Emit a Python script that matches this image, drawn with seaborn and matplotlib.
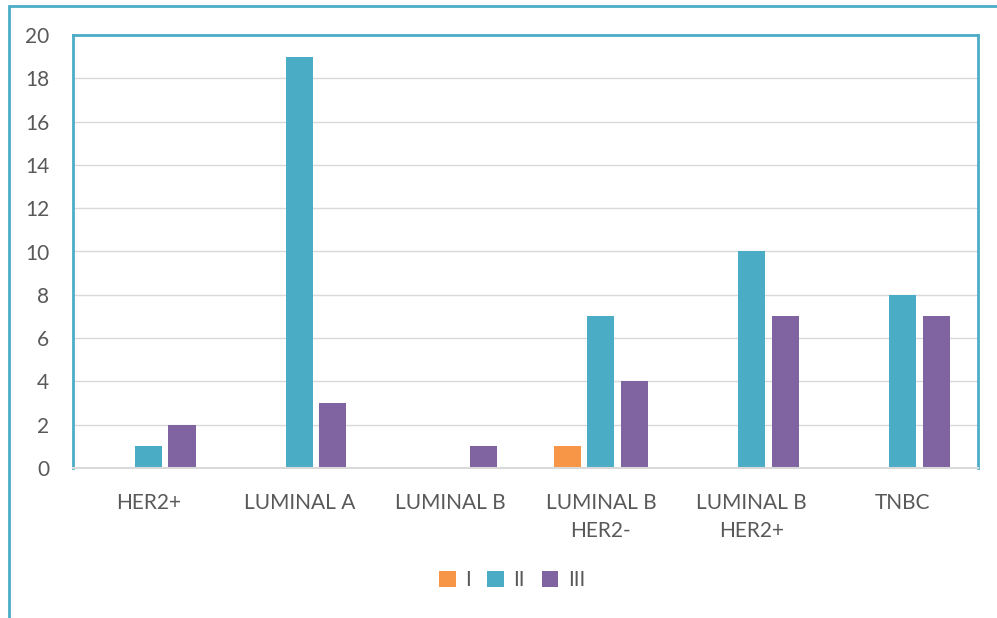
import pandas as pd
import matplotlib.pyplot as plt
import seaborn as sns
from matplotlib.patches import Rectangle

# chart values
subtypes = ["HER2+", "LUMINAL A", "LUMINAL B", "LUMINAL B\nHER2-", "LUMINAL B\nHER2+", "TNBC"]
grades = ["I", "II", "III"]
grade_i = [0, 0, 0, 1, 0, 0]
grade_ii = [1, 19, 0, 7, 10, 8]
grade_iii = [2, 3, 1, 4, 7, 7]
colors = ["#F79646", "#4BACC6", "#8064A2"]

df = pd.DataFrame({
    "subtype": subtypes * 3,
    "grade": [g for g in grades for _ in subtypes],
    "count": grade_i + grade_ii + grade_iii,
})

sns.set_theme(style="white")
plt.rcParams["font.family"] = ["Lato", "DejaVu Sans"]

fig = plt.figure(figsize=(9.97, 6.18), dpi=100)
ax = fig.add_axes([73 / 997, 1 - 468 / 618, (978 - 73) / 997, (468 - 35) / 618])

sns.barplot(data=df, x="subtype", y="count", hue="grade", order=subtypes,
            hue_order=grades, palette=colors, width=0.667, gap=0.19,
            linewidth=0, saturation=1, ax=ax)

ax.set_ylim(0, 20)
ax.set_yticks(range(0, 21, 2))
ax.set_xlabel("")
ax.set_ylabel("")
ax.grid(axis="y", color="#D9D9D9", lw=1)
ax.set_axisbelow(True)
ax.tick_params(axis="y", length=0, pad=17, labelsize=15, labelcolor="#595959")
ax.tick_params(axis="x", length=0, pad=18, labelsize=15, labelcolor="#595959")
for lbl in ax.get_xticklabels():
    lbl.set_linespacing(1.5)

for side in ["left", "top", "right"]:
    ax.spines[side].set_color("#4BACC6")
    ax.spines[side].set_linewidth(2)
ax.spines["bottom"].set_color("#D9D9D9")
ax.spines["bottom"].set_linewidth(1.5)

ax.legend(loc="center", bbox_to_anchor=(512 / 997, 1 - 580 / 618),
          bbox_transform=fig.transFigure, ncol=3, frameon=False,
          handlelength=0.8, handleheight=0.8, handletextpad=0.45,
          columnspacing=0.8, labelcolor="#595959", fontsize=15)

# outer chart border (cut off at the right and bottom)
fig.add_artist(Rectangle((9 / 997, -0.1), 2, 1 - 6 / 618 + 0.1,
                         transform=fig.transFigure, fill=False,
                         edgecolor="#4BACC6", lw=2))

fig.savefig("out.png", dpi=100)
